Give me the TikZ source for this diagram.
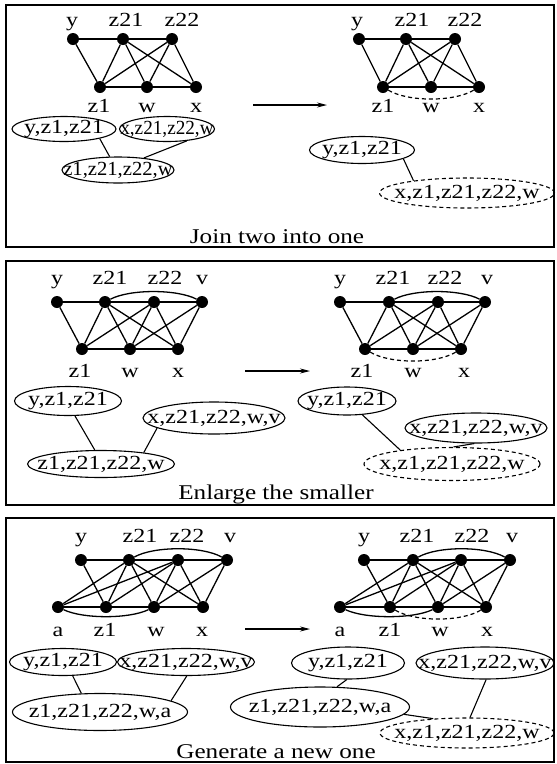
\documentclass[tikz,border=0pt]{standalone}
\usepackage{graphicx}
\usepackage{fontspec}
\setmainfont{Liberation Serif}[FakeStretch=1.2]
\usetikzlibrary{shapes.geometric,arrows.meta}
\begin{document}
\begin{tikzpicture}[x=1pt,y=-1pt,
  dot/.style={circle,fill=black,inner sep=0pt,minimum size=12pt},
  lbl/.style={anchor=base,inner sep=0pt,font=\fontsize{20}{24}\selectfont},
  edge/.style={line width=1.3pt},
  dashedge/.style={line width=1.2pt,dash pattern=on 4pt off 3pt},
  bag/.style={ellipse,draw,line width=1.1pt,inner sep=0pt},
  newbag/.style={bag,dash pattern=on 4pt off 3pt},
  bagtext/.style={inner sep=0pt,font=\fontsize{20}{24}\selectfont},
  panel/.style={line width=1.6pt},
  caption/.style={anchor=base,inner sep=0pt,font=\fontsize{21}{25}\selectfont},
  trans/.style={line width=1.1pt,-{Stealth[length=10pt,width=5pt]}},
  conn/.style={line width=1.1pt}]
\useasboundingbox (0,0) rectangle (557,764);

% ---------------- panels ----------------
\draw[panel] (6,5) rectangle (554,247);
\draw[panel] (6,261) rectangle (554,505);
\draw[panel] (6,518) rectangle (554,762);

% ================= Panel 1 left =================
\node[dot] (Ay) at (73,39) {};
\node[dot] (Az21) at (123,39) {};
\node[dot] (Az22) at (172,39) {};
\node[dot] (Az1) at (100,87) {};
\node[dot] (Aw) at (147,87) {};
\node[dot] (Ax) at (196,87) {};
\foreach \p/\q in {y/z21,z21/z22,z1/w,w/x,y/z1,z21/z1,z21/w,z21/x,z22/z1,z22/w,z22/x}
  \draw[edge] (A\p) -- (A\q);
\node[lbl] (Aly) at (72,26) {y};
\node[lbl] (Alz21) at (126,26) {z21};
\node[lbl] (Alz22) at (182,26) {z22};
\node[lbl] (Alz1) at (99,112) {z1};
\node[lbl] (Alw) at (147,112) {w};
\node[lbl] (Alx) at (196,112) {x};

% ================= Panel 1 right =================
\node[dot] (By) at (359,39) {};
\node[dot] (Bz21) at (406,39) {};
\node[dot] (Bz22) at (455,39) {};
\node[dot] (Bz1) at (383,87) {};
\node[dot] (Bw) at (431,87) {};
\node[dot] (Bx) at (479,87) {};
\foreach \p/\q in {y/z21,z21/z22,z1/w,w/x,y/z1,z21/z1,z21/w,z21/x,z22/z1,z22/w,z22/x}
  \draw[edge] (B\p) -- (B\q);
\draw[dashedge] (Bz1) .. controls +(25,15) and +(-25,15) .. (Bx);
\node[lbl] (Bly) at (357,26) {y};
\node[lbl] (Blz21) at (412,26) {z21};
\node[lbl] (Blz22) at (465,26) {z22};
\node[lbl] (Blz1) at (383,112) {z1};
\node[lbl] (Blw) at (431,112) {w};
\node[lbl] (Blx) at (479,112) {x};

\coordinate (A1s) at (253,105);
\coordinate (A1e) at (327,105);
\draw[trans] (A1s) -- (A1e);

\node[bag,minimum width=104pt,minimum height=25pt] (Aa) at (64,129) {};
\node[bagtext] (Aat) at (Aa.center) {y,z1,z21};
\node[bag,minimum width=95pt,minimum height=25pt] (Ab) at (167,129) {};
\node[bagtext] (Abt) at (Ab.center) {\scalebox{0.8}[1]{x,z21,z22,w}};
\node[bag,minimum width=112pt,minimum height=26pt] (Ac) at (118,170) {};
\node[bagtext] (Act) at (Ac.center) {\scalebox{0.86}[1]{z1,z21,z22,w}};
\draw[conn] (Aa.-15) -- (Ac.122);
\draw[conn] (Ab.-31) -- (Ac.25);

\node[bag,minimum width=105pt,minimum height=27pt] (Ba) at (362,150) {};
\node[bagtext] (Bat) at (Ba.center) {y,z1,z21};
\node[newbag,minimum width=175pt,minimum height=30pt] (Bb) at (467,193) {};
\node[bagtext] (Bbt) at (Bb.center) {x,z1,z21,z22,w};
\draw[conn] (Ba.-12) -- (Bb.167);

\node[caption] (Acap) at (277,243) {Join two into one};

% ================= Panel 2 left =================
\node[dot] (Cy) at (57,302) {};
\node[dot] (Cz21) at (105,302) {};
\node[dot] (Cz22) at (154,302) {};
\node[dot] (Cv) at (202,302) {};
\node[dot] (Cz1) at (82,349) {};
\node[dot] (Cw) at (130,349) {};
\node[dot] (Cx) at (178,349) {};
\foreach \p/\q in {y/z21,z21/z22,z22/v,z1/w,w/x,y/z1,z21/z1,z21/w,z21/x,z22/z1,z22/w,z22/x,v/w,v/x}
  \draw[edge] (C\p) -- (C\q);
\draw[edge] (Cz21) .. controls +(25,-13) and +(-25,-13) .. (Cv);
\node[lbl] (Cly) at (57,284) {y};
\node[lbl] (Clz21) at (110,284) {z21};
\node[lbl] (Clz22) at (165,284) {z22};
\node[lbl] (Clv) at (202,284) {v};
\node[lbl] (Clz1) at (80,377) {z1};
\node[lbl] (Clw) at (130,377) {w};
\node[lbl] (Clx) at (178,377) {x};

% ================= Panel 2 right =================
\node[dot] (Dy) at (340,302) {};
\node[dot] (Dz21) at (389,302) {};
\node[dot] (Dz22) at (438,302) {};
\node[dot] (Dv) at (485,302) {};
\node[dot] (Dz1) at (365,349) {};
\node[dot] (Dw) at (413,349) {};
\node[dot] (Dx) at (461,349) {};
\foreach \p/\q in {y/z21,z21/z22,z22/v,z1/w,w/x,y/z1,z21/z1,z21/w,z21/x,z22/z1,z22/w,z22/x,v/w,v/x}
  \draw[edge] (D\p) -- (D\q);
\draw[edge] (Dz21) .. controls +(25,-13) and +(-25,-13) .. (Dv);
\draw[dashedge] (Dz1) .. controls +(25,15) and +(-25,15) .. (Dx);
\node[lbl] (Dly) at (340,284) {y};
\node[lbl] (Dlz21) at (393,284) {z21};
\node[lbl] (Dlz22) at (445,284) {z22};
\node[lbl] (Dlv) at (487,284) {v};
\node[lbl] (Dlz1) at (362,377) {z1};
\node[lbl] (Dlw) at (413,377) {w};
\node[lbl] (Dlx) at (464,377) {x};

\coordinate (C1s) at (245,371);
\coordinate (C1e) at (310,371);
\draw[trans] (C1s) -- (C1e);

\node[bag,minimum width=107pt,minimum height=29pt] (Ca) at (68,401) {};
\node[bagtext] (Cat) at (Ca.center) {y,z1,z21};
\node[bag,minimum width=142pt,minimum height=32pt] (Cb) at (214,418) {};
\node[bagtext] (Cbt) at (Cb.center) {x,z21,z22,w,v};
\node[bag,minimum width=147pt,minimum height=27pt] (Cc) at (101,464) {};
\node[bagtext] (Cct) at (Cc.center) {z1,z21,z22,w};
\draw[conn] (Ca.-65) -- (Cc.114);
\draw[conn] (Cb.190) -- (Cc.15);

\node[bag,minimum width=98pt,minimum height=28pt] (Da) at (347,401) {};
\node[bagtext] (Dat) at (Da.center) {y,z1,z21};
\node[bag,minimum width=142pt,minimum height=30pt] (Db) at (476,428) {};
\node[bagtext] (Dbt) at (Db.center) {x,z21,z22,w,v};
\node[newbag,minimum width=176pt,minimum height=33pt] (Dc) at (452,464) {};
\node[bagtext] (Dct) at (Dc.center) {x,z1,z21,z22,w};
\draw[conn] (Da.-42) -- (Dc.165);
\draw[conn] (Db.-96) -- (Dc.85);

\node[caption] (Ccap) at (276,499) {Enlarge the smaller};

% ================= Panel 3 left =================
\node[dot] (Ey) at (81,560) {};
\node[dot] (Ez21) at (129,560) {};
\node[dot] (Ez22) at (178,560) {};
\node[dot] (Ev) at (227,560) {};
\node[dot] (Ea1) at (58,607) {};
\node[dot] (Ez1) at (106,607) {};
\node[dot] (Ew) at (154,607) {};
\node[dot] (Ex) at (203,607) {};
\foreach \p/\q in {y/z21,z21/z22,z22/v,a1/z1,z1/w,w/x,y/z1,z21/z1,z21/w,z21/x,z22/z1,z22/w,z22/x,v/w,v/x,a1/z21,a1/z22}
  \draw[edge] (E\p) -- (E\q);
\draw[edge] (Ez21) .. controls +(25,-14) and +(-25,-14) .. (Ev);
\draw[edge] (Ea1) .. controls +(25,12) and +(-25,12) .. (Ew);
\node[lbl] (Ely) at (81,542) {y};
\node[lbl] (Elz21) at (140,542) {z21};
\node[lbl] (Elz22) at (187,542) {z22};
\node[lbl] (Elv) at (230,542) {v};
\node[lbl] (Ela) at (58,636) {a};
\node[lbl] (Elz1) at (105,636) {z1};
\node[lbl] (Elw) at (156,636) {w};
\node[lbl] (Elx) at (202,636) {x};

% ================= Panel 3 right =================
\node[dot] (Fy) at (364,560) {};
\node[dot] (Fz21) at (413,560) {};
\node[dot] (Fz22) at (461,560) {};
\node[dot] (Fv) at (510,560) {};
\node[dot] (Fa1) at (340,607) {};
\node[dot] (Fz1) at (390,607) {};
\node[dot] (Fw) at (438,607) {};
\node[dot] (Fx) at (486,607) {};
\foreach \p/\q in {y/z21,z21/z22,z22/v,a1/z1,z1/w,w/x,y/z1,z21/z1,z21/w,z21/x,z22/z1,z22/w,z22/x,v/w,v/x,a1/z21,a1/z22}
  \draw[edge] (F\p) -- (F\q);
\draw[edge] (Fz21) .. controls +(25,-14) and +(-25,-14) .. (Fv);
\draw[edge] (Fa1) .. controls +(25,12) and +(-25,12) .. (Fw);
\draw[dashedge] (Fz1) .. controls +(25,15) and +(-25,15) .. (Fx);
\node[lbl] (Fly) at (364,542) {y};
\node[lbl] (Flz21) at (417,542) {z21};
\node[lbl] (Flz22) at (472,542) {z22};
\node[lbl] (Flv) at (512,542) {v};
\node[lbl] (Fla) at (340,636) {a};
\node[lbl] (Flz1) at (390,636) {z1};
\node[lbl] (Flw) at (440,636) {w};
\node[lbl] (Flx) at (487,636) {x};

\coordinate (E1s) at (245,629);
\coordinate (E1e) at (310,629);
\draw[trans] (E1s) -- (E1e);

\node[bag,minimum width=107pt,minimum height=27pt] (Ea) at (63,662) {};
\node[bagtext] (Eat) at (Ea.center) {y,z1,z21};
\node[bag,minimum width=137pt,minimum height=27pt] (Eb) at (186,662) {};
\node[bagtext] (Ebt) at (Eb.center) {x,z21,z22,w,v};
\node[bag,minimum width=175pt,minimum height=37pt] (Ec) at (100,712) {};
\node[bagtext] (Ect) at (Ec.center) {z1,z21,z22,w,a};
\draw[conn] (Ea.-55) -- (Ec.135);
\draw[conn] (Eb.-87) -- (Ec.9);

\node[bag,minimum width=113pt,minimum height=32pt] (Fa) at (348,663) {};
\node[bagtext] (Fat) at (Fa.center) {y,z1,z21};
\node[bag,minimum width=138pt,minimum height=32pt] (Fb) at (485,663) {};
\node[bagtext] (Fbt) at (Fb.center) {x,z21,z22,w,v};
\node[bag,minimum width=179pt,minimum height=40pt] (Fc) at (320,707) {};
\node[bagtext] (Fct) at (Fc.center) {z1,z21,z22,w,a};
\node[newbag,minimum width=174pt,minimum height=30pt] (Fd) at (467,733) {};
\node[bagtext] (Fdt) at (Fd.center) {x,z1,z21,z22,w};
\draw[conn] (Fa.-94) -- (Fc.50);
\draw[conn] (Fc.-5) -- (Fd.157);
\draw[conn] (Fb.-86) -- (Fd.79);

\node[caption] (Ecap) at (276,758) {Generate a new one};
\end{tikzpicture}
\end{document}
